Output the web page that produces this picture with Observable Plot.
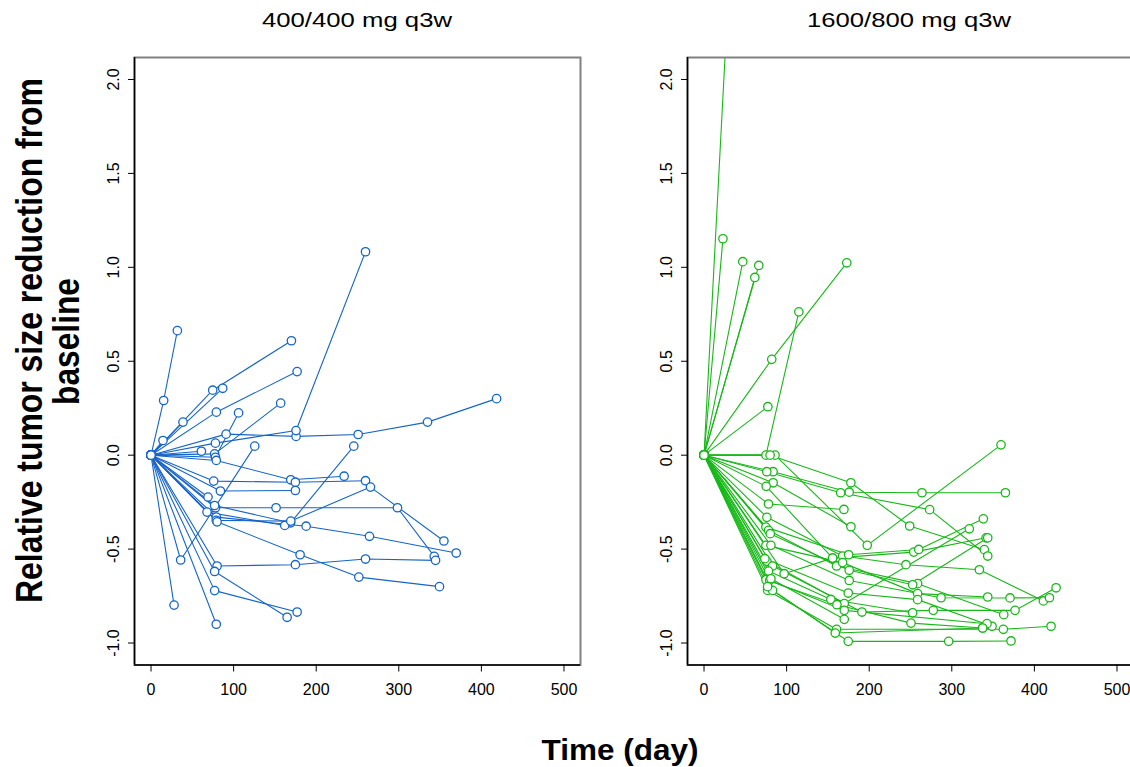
<!DOCTYPE html>
<html><head><meta charset="utf-8">
<script src="https://cdn.jsdelivr.net/npm/d3@7"></script>
<script src="https://cdn.jsdelivr.net/npm/@observablehq/plot@0.6"></script>
<style>
html,body{margin:0;padding:0;background:#fff;overflow:hidden}
#wrap{position:relative;width:1130px;height:767px;overflow:hidden;font-family:"Liberation Sans",Arial,sans-serif}
.panel{position:absolute;top:0}
#overlay{position:absolute;left:0;top:0}
</style></head><body><div id="wrap"></div>
<script>
const panelTitles = ["400/400 mg q3w", "1600/800 mg q3w"];
const panelColors = ["#1565c8", "#18b818"];
const xTicks = [0, 100, 200, 300, 400, 500];
const yTicks = [-1, -0.5, 0, 0.5, 1, 1.5, 2];
const xDomain = [-20, 520];
const yDomain = [-1.117, 2.117];
const yLabelLines = ["Relative tumor size reduction from", "baseline"];
const xLabel = "Time (day)";

// 400/400 mg q3w : one array of days and one of values per patient
const blueDays = [
  [0,15.3,31.9],[0,14.5],[0,38.7],[0,74.7,170],[0,86.8],[0,79.1,176.9],
  [0,90.9,175.6,250.8,334.8,418.4],[0,78,175.6,259.7],[0,61],[0,77,157],[0,78,106],
  [0,79,169.2,233.8],[0,75.9,174.8,259.7],[0,84,174.8],[0,69],
  [0,78,151.4,298.4,342.9],[0,77,169,245.5],[0,67.8,161.9],
  [0,79,187.8,264.5,369.5],[0,79,169.2,265.7,354.6],[0,80,180.5,251.6,349.3],
  [0,80,174.8,259.7,344.5],[0,77,164.8],[0,77,176.9],[0,79],[0,27.9],[0,35.9,125.6]
];
const blueValues = [
  [0,0.291,0.663],[0,0.078],[0,0.176],[0,0.346,0.609],[0,0.356],[0,0.229,0.445],
  [0,0.112,0.100,0.110,0.176,0.301],[0,0.064,0.131,1.083],[0,0.021],[0,0.007,0.277],[0,-0.011,0.225],
  [0,-0.028,-0.131,-0.112],[0,-0.138,-0.144,-0.136],[0,-0.191,-0.188],[0,-0.223],
  [0,-0.28,-0.28,-0.28,-0.539],[0,-0.268,-0.36,0.048],[0,-0.303,-0.374],
  [0,-0.33,-0.378,-0.432,-0.521],[0,-0.347,-0.351,-0.17,-0.457],[0,-0.355,-0.53,-0.649,-0.70],
  [0,-0.59,-0.583,-0.553,-0.56],[0,-0.619,-0.863],[0,-0.721,-0.835],[0,-0.9],[0,-0.798],[0,-0.558,0.048]
];

// 1600/800 mg q3w
const greenDays = [
  [0,22.9],[0,46.9],[0,66.3],[0,61.5],[0,30],[0,82,172.8],[0,77.3],[0,75,114.8],
  [0,86,197.6,359.6],[0,80,177.8,249,339.4],[0,83.6,175.8,263.9,364.9],[0,76,165.4,273.2,343.5],
  [0,83.7,177.9],[0,78.1,169.4],[0,75.3,155.7,253.9,341.5],[0,76.1,167.8,244.5,333.4,410.9],
  [0,74.9,175.1,259.9,338.2],[0,78.1,160.5,258.6,362.9],[0,80.2,175.8,252.6,343.5],
  [0,74.9,167.8,258.6,343.5],[0,81,175.8,287,370.5,418.2],[0,76.1,169.8,321.2],
  [0,73.7,174.6,258.6,348.7],[0,83,191.2,277.6,376.6,426.3],[0,78.1,153.6,252.6],
  [0,75,160.9,250.6,337.4],[0,79.5,169.8,342.6],[0,81,169.8],[0,77,160.5,362.4,420.2],
  [0,83,174.6,296.2,371.7],[0,97,155.7],[0,77,158.9,337.4]
];
const greenValues = [
  [0,1.152],[0,1.03],[0,1.01],[0,0.946],[0,2.5],[0,0.51,1.024],[0,0.258],[0,0,0.763],
  [0,0,-0.48,0.055],[0,0,-0.147,-0.377,-0.503],[0,-0.088,-0.197,-0.2,-0.2],[0,-0.088,-0.2,-0.29,-0.537],
  [0,-0.147,-0.381],[0,-0.26,-0.289],[0,-0.166,-0.548,-0.516,-0.44],[0,-0.331,-0.537,-0.583,-0.61,-0.776],
  [0,-0.383,-0.53,-0.502,-0.339],[0,-0.40,-0.59,-0.684,-0.849],[0,-0.418,-0.613,-0.69,-0.44],
  [0,-0.48,-0.572,-0.737,-0.755],[0,-0.48,-0.667,-0.759,-0.76,-0.759],[0,-0.565,-0.79,-0.392],
  [0,-0.551,-0.734,-0.769,-0.911],[0,-0.59,-0.835,-0.826,-0.826,-0.706],[0,-0.617,-0.768,-0.839],
  [0,-0.663,-0.796,-0.894,-0.92],[0,-0.667,-0.826,-0.897],[0,-0.658,-0.874],[0,-0.72,-0.927,-0.927,-0.911],
  [0,-0.72,-0.991,-0.991,-0.989],[0,-0.631,-0.548],[0,-0.70,-0.947,-0.92]
];

function buildRows(days, values) {
  const rows = [];
  days.forEach((ds, i) => ds.forEach((d, j) => rows.push({id: i, day: d, value: values[i][j]})));
  return rows;
}

function panel(rows, color) {
  return Plot.plot({
    width: 600, height: 700,
    marginLeft: 134, marginRight: 20, marginTop: 57, marginBottom: 35.5,
    x: {domain: xDomain},
    y: {domain: yDomain},
    style: {fontFamily: "'Liberation Sans', Arial, sans-serif", fontSize: "16px", background: "transparent", overflow: "visible", color: "black"},
    marks: [
      Plot.line(rows, {x: "day", y: "value", z: "id", stroke: color, strokeWidth: 1.1, clip: true}),
      Plot.dot(rows, {x: "day", y: "value", r: 4.2, stroke: color, strokeWidth: 1.3, fill: "white", clip: true}),
      Plot.frame({stroke: "#808080", strokeWidth: 2}),
      Plot.ruleX([xDomain[0]], {stroke: "black", strokeWidth: 1.5}),
      Plot.ruleY([yDomain[0]], {stroke: "black", strokeWidth: 1.5}),
      Plot.axisX({ticks: xTicks, tickSize: 7, tickPadding: 12, label: null, tickFormat: d => String(d)}),
      Plot.axisY({ticks: yTicks, tickSize: 6, tickPadding: 10, tickRotate: -90, label: null, tickFormat: d => d.toFixed(1)})
    ]
  });
}

const wrap = document.getElementById("wrap");
const left = panel(buildRows(blueDays, blueValues), panelColors[0]);
left.classList.add("panel"); left.style.left = "0px";
wrap.appendChild(left);
const right = panel(buildRows(greenDays, greenValues), panelColors[1]);
right.classList.add("panel"); right.style.left = "553px";
wrap.appendChild(right);

const ov = d3.select(wrap).append("svg").attr("id", "overlay").attr("width", 1130).attr("height", 767)
  .style("font-family", "'Liberation Sans', Arial, sans-serif");
ov.append("text").attr("x", 357).attr("y", 27).attr("text-anchor", "middle").attr("font-size", 21)
  .attr("textLength", 190).attr("lengthAdjust", "spacingAndGlyphs").text(panelTitles[0]);
ov.append("text").attr("x", 909).attr("y", 27).attr("text-anchor", "middle").attr("font-size", 21)
  .attr("textLength", 204).attr("lengthAdjust", "spacingAndGlyphs").text(panelTitles[1]);
ov.append("text").attr("transform", "translate(42,340.5) rotate(-90)").attr("text-anchor", "middle")
  .attr("font-size", 36).attr("font-weight", "bold").attr("textLength", 525).attr("lengthAdjust", "spacingAndGlyphs").text(yLabelLines[0]);
ov.append("text").attr("transform", "translate(79,341.5) rotate(-90)").attr("text-anchor", "middle")
  .attr("font-size", 36).attr("font-weight", "bold").attr("textLength", 127).attr("lengthAdjust", "spacingAndGlyphs").text(yLabelLines[1]);
ov.append("text").attr("x", 620).attr("y", 760).attr("text-anchor", "middle")
  .attr("font-size", 30).attr("font-weight", "bold").attr("textLength", 157).attr("lengthAdjust", "spacingAndGlyphs").text(xLabel);
</script></body></html>
